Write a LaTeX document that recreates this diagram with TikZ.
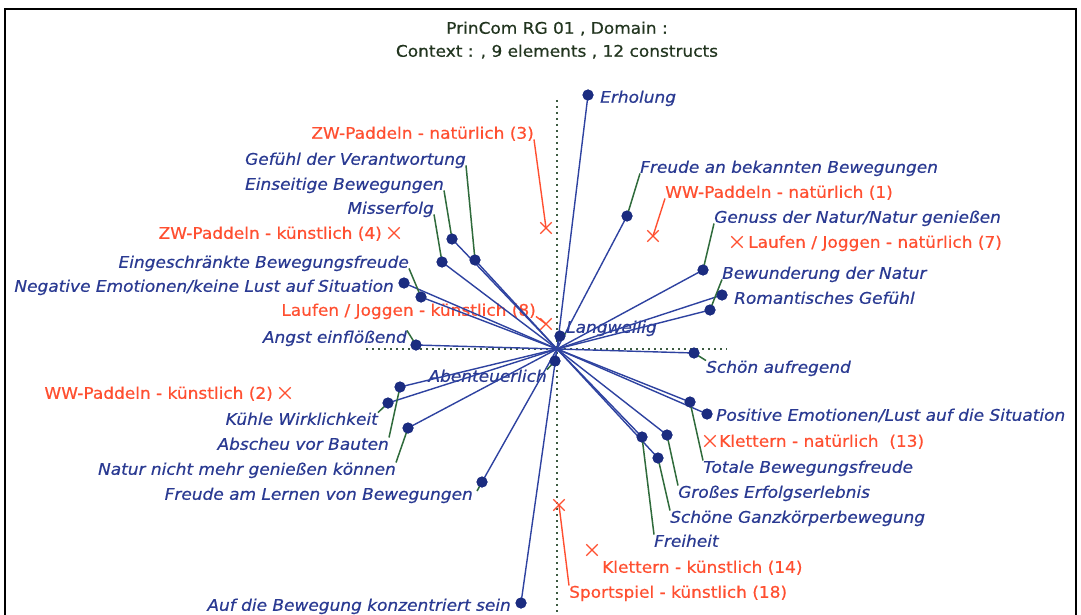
\documentclass[tikz,border=0pt]{standalone}
\usepackage{fontspec}
\usetikzlibrary{shapes.misc}
\newfontfamily\geneva[FakeStretch=1.06,FakeBold=0.5]{DejaVu Sans}
\definecolor{txtblue}{HTML}{2A3A92}
\definecolor{dotblue}{HTML}{1B2C80}
\definecolor{lineblue}{HTML}{2E42A0}
\definecolor{leadgreen}{HTML}{2F6B3B}
\definecolor{elred}{HTML}{FF4F30}
\definecolor{titlecol}{HTML}{22351F}
\definecolor{axisgreen}{HTML}{3C5A40}

\begin{document}
\begin{tikzpicture}[x=1pt,y=-1pt,
  lbl/.style={inner sep=0pt, text height=12pt, text depth=0.5pt},
  cons/.style={lbl, font=\geneva\fontsize{16}{18}\selectfont\itshape, text=txtblue},
  elem/.style={lbl, font=\geneva\fontsize{16}{18}\selectfont, text=elred},
  heading/.style={lbl, font=\geneva\fontsize{16}{18}\selectfont, text=titlecol},
  pole/.style={circle, fill=dotblue, inner sep=0pt, minimum size=11pt},
  elmark/.style={cross out, draw=elred, line width=1.3pt, inner sep=0pt, minimum size=10pt},
  spoke/.style={draw=lineblue, line width=1.4pt},
  lead/.style={draw=leadgreen, line width=1.5pt},
  redlead/.style={draw=elred, line width=1.4pt},
  axis/.style={draw=axisgreen, line width=1.8pt, dash pattern=on 1.8pt off 4.2pt}
]
\useasboundingbox (0,0) rectangle (1081,615);
\fill[white] (0,0) rectangle (1081,615);

% frame (open at the bottom)
\coordinate (fr-bl) at (5,618);
\coordinate (fr-tl) at (5,9);
\coordinate (fr-tr) at (1076,9);
\coordinate (fr-br) at (1076,618);
\draw[line width=2pt] (fr-bl) -- (fr-tl) -- (fr-tr) -- (fr-br);

% heading
\node[heading] (t1) at (557,28) {PrinCom RG 01 , Domain :};
\node[heading] (t2) at (557,51) {Context : , 9 elements , 12 constructs};

% dotted axes
\coordinate (O) at (557,349);
\coordinate (ax-t) at (557,100);
\coordinate (ax-b) at (557,615);
\coordinate (ax-l) at (366,349);
\coordinate (ax-r) at (727,349);
\draw[axis] (ax-t) -- (ax-b);
\draw[axis] (ax-l) -- (ax-r);

% ---------- construct labels ----------
\node[cons,anchor=west] (erh-l) at (600,97) {Erholung};
\node[cons,anchor=west] (frb-l) at (640,167) {Freude an bekannten Bewegungen};
\node[cons,anchor=west] (gen-l) at (714,217) {Genuss der Natur/Natur genießen};
\node[cons,anchor=west] (bew-l) at (722,273) {Bewunderung der Natur};
\node[cons,anchor=west] (rom-l) at (734,298) {Romantisches Gefühl};
\node[cons,anchor=west] (lan-l) at (566,327) {Langweilig};
\node[cons,anchor=west] (sch-l) at (706,367) {Schön aufregend};
\node[cons,anchor=west] (pos-l) at (716,415) {Positive Emotionen/Lust auf die Situation};
\node[cons,anchor=west] (tot-l) at (703,467) {Totale Bewegungsfreude};
\node[cons,anchor=west] (gro-l) at (678,492) {Großes Erfolgserlebnis};
\node[cons,anchor=west] (sgk-l) at (670,517) {Schöne Ganzkörperbewegung};
\node[cons,anchor=west] (fre-l) at (654,541) {Freiheit};

\node[cons,anchor=east] (gef-l) at (466,159) {Gefühl der Verantwortung};
\node[cons,anchor=east] (ein-l) at (444,184) {Einseitige Bewegungen};
\node[cons,anchor=east] (mis-l) at (434,208) {Misserfolg};
\node[cons,anchor=east] (egs-l) at (409,262) {Eingeschränkte Bewegungsfreude};
\node[cons,anchor=east] (neg-l) at (394,286) {Negative Emotionen/keine Lust auf Situation};
\node[cons,anchor=east] (ang-l) at (407,337) {Angst einflößend};
\node[cons,anchor=east] (abe-l) at (547,376) {Abenteuerlich};
\node[cons,anchor=east] (kuh-l) at (378,419) {Kühle Wirklichkeit};
\node[cons,anchor=east] (abs-l) at (389,444) {Abscheu vor Bauten};
\node[cons,anchor=east] (nat-l) at (396,469) {Natur nicht mehr genießen können};
\node[cons,anchor=east] (frl-l) at (473,494) {Freude am Lernen von Bewegungen};
\node[cons,anchor=east] (auf-l) at (511,605) {Auf die Bewegung konzentriert sein};

% ---------- element labels ----------
\node[elem,anchor=east] (e3-l) at (534,133) {ZW-Paddeln - natürlich (3)};
\node[elem,anchor=west] (e1-l) at (665,192) {WW-Paddeln - natürlich (1)};
\node[elem,anchor=east] (e4-l) at (382,233) {ZW-Paddeln - künstlich (4)};
\node[elem,anchor=west] (e7-l) at (748,242) {Laufen / Joggen - natürlich (7)};
\node[elem,anchor=east] (e8-l) at (536,310) {Laufen / Joggen - künstlich (8)};
\node[elem,anchor=east] (e2-l) at (273,393) {WW-Paddeln - künstlich (2)};
\node[elem,anchor=west] (e13-l) at (719,441) {Klettern - natürlich~ (13)};
\node[elem,anchor=west] (e14-l) at (602,567) {Klettern - künstlich (14)};
\node[elem,anchor=west] (e18-l) at (569,592) {Sportspiel - künstlich (18)};

% ---------- element markers ----------
\node[elmark] (e3) at (546,228) {};
\node[elmark] (e1) at (653,236) {};
\node[elmark] (e4) at (394,233) {};
\node[elmark] (e7) at (737,242) {};
\node[elmark] (e8) at (546,324) {};
\node[elmark] (e2) at (285,393) {};
\node[elmark] (e13) at (710,441) {};
\node[elmark] (e14) at (592,550) {};
\node[elmark] (e18) at (559,505) {};

\draw[redlead] (e3-l.south east) -- (e3.center);
\draw[redlead] (e1.center) -- (e1-l.south west);
\draw[redlead] (e8-l.south east) -- (e8.center);
\draw[redlead] (e18.center) -- (e18-l.north west);

% ---------- construct poles ----------
\node[pole] (erh) at (588,95) {};
\node[pole] (frb) at (627,216) {};
\node[pole] (gen) at (703,270) {};
\node[pole] (bew) at (710,310) {};
\node[pole] (rom) at (722,295) {};
\node[pole] (lan) at (560,336) {};
\node[pole] (sch) at (694,353) {};
\node[pole] (pos) at (707,414) {};
\node[pole] (tot) at (690,402) {};
\node[pole] (gro) at (667,435) {};
\node[pole] (sgk) at (658,458) {};
\node[pole] (fre) at (642,437) {};
\node[pole] (gef) at (475,260) {};
\node[pole] (ein) at (452,239) {};
\node[pole] (mis) at (442,262) {};
\node[pole] (egs) at (421,297) {};
\node[pole] (neg) at (404,283) {};
\node[pole] (ang) at (416,345) {};
\node[pole] (abe) at (555,361) {};
\node[pole] (kuh) at (388,403) {};
\node[pole] (abs) at (400,387) {};
\node[pole] (nat) at (408,428) {};
\node[pole] (frl) at (482,482) {};
\node[pole] (auf) at (521,603) {};

% spokes from the origin to every pole
\foreach \p in {erh,frb,gen,bew,rom,lan,sch,pos,tot,gro,sgk,fre,
                gef,ein,mis,egs,neg,ang,abe,kuh,abs,nat,frl,auf}
  \draw[spoke] (O) -- (\p.center);

% leader lines from poles to their labels
\draw[lead] (frb.center) -- (frb-l.south west);
\draw[lead] (gen.center) -- (gen-l.south west);
\draw[lead] (bew.center) -- (bew-l.south west);
\draw[lead] (lan.center) -- (lan-l.south west);
\draw[lead] (sch.center) -- (sch-l.north west);
\draw[lead] (tot.center) -- (tot-l.north west);
\draw[lead] (gro.center) -- (gro-l.north west);
\draw[lead] (sgk.center) -- (sgk-l.north west);
\draw[lead] (fre.center) -- (fre-l.north west);
\draw[lead] (gef.center) -- (gef-l.south east);
\draw[lead] (ein.center) -- (ein-l.south east);
\draw[lead] (mis.center) -- (mis-l.south east);
\draw[lead] (egs.center) -- (egs-l.south east);
\draw[lead] (ang.center) -- (ang-l.north east);
\draw[lead] (abe.center) -- (abe-l.north east);
\draw[lead] (kuh.center) -- (kuh-l.north east);
\draw[lead] (abs.center) -- (abs-l.north east);
\draw[lead] (nat.center) -- (nat-l.north east);
\coordinate (frl-e) at (477,491);
\draw[lead] (frl.center) -- (frl-e);

% redraw poles above the spokes
\foreach \p in {erh,frb,gen,bew,rom,lan,sch,pos,tot,gro,sgk,fre,
                gef,ein,mis,egs,neg,ang,abe,kuh,abs,nat,frl,auf}
  \fill[dotblue] (\p.center) circle (5.5pt);
\end{tikzpicture}
\end{document}
